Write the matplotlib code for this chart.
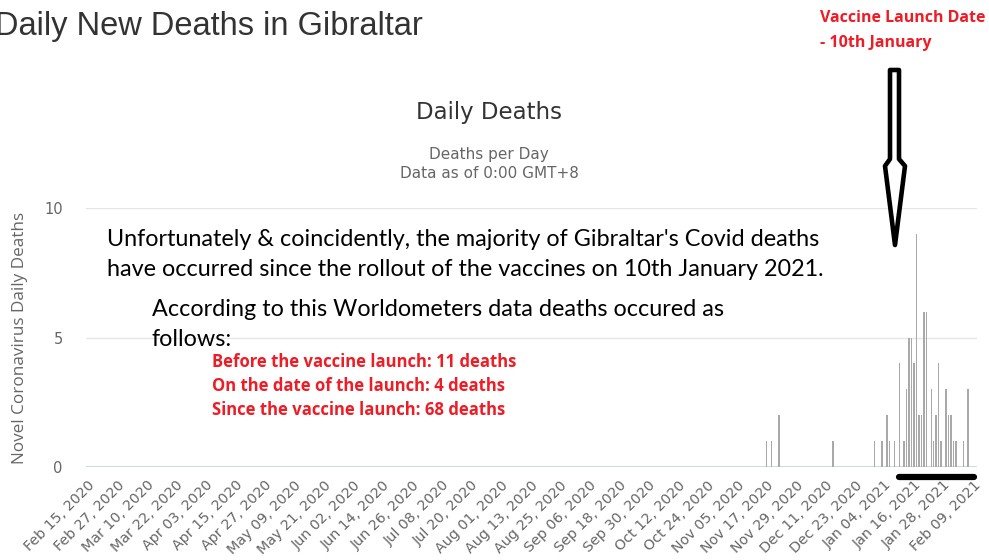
import numpy as np
import datetime
import matplotlib
matplotlib.use("Agg")
import matplotlib.pyplot as plt
from matplotlib.patches import Polygon
import matplotlib.transforms as mtransforms

# ---------------- data ----------------
start_date = "2020-02-15"
n_days = 362
death_dates = ["2020-11-17", "2020-11-19", "2020-11-22", "2020-12-14", "2020-12-31",
               "2021-01-03", "2021-01-05", "2021-01-06", "2021-01-08",
               "2021-01-10", "2021-01-12", "2021-01-13", "2021-01-14", "2021-01-15",
               "2021-01-16", "2021-01-17", "2021-01-18", "2021-01-19", "2021-01-20",
               "2021-01-21", "2021-01-23", "2021-01-24", "2021-01-25", "2021-01-26",
               "2021-01-27", "2021-01-29", "2021-01-30", "2021-01-31", "2021-02-01",
               "2021-02-02", "2021-02-05", "2021-02-07"]
death_counts = [1, 1, 2, 1, 1,
                1, 2, 1, 1,
                4, 1, 3, 5, 5,
                4, 9, 2, 2, 6,
                6, 3, 1, 2, 4,
                1, 3, 2, 2, 1,
                1, 1, 3]
tick_labels = ["Feb 15, 2020", "Feb 27, 2020", "Mar 10, 2020", "Mar 22, 2020", "Apr 03, 2020",
               "Apr 15, 2020", "Apr 27, 2020", "May 09, 2020", "May 21, 2020", "Jun 02, 2020",
               "Jun 14, 2020", "Jun 26, 2020", "Jul 08, 2020", "Jul 20, 2020", "Aug 01, 2020",
               "Aug 13, 2020", "Aug 25, 2020", "Sep 06, 2020", "Sep 18, 2020", "Sep 30, 2020",
               "Oct 12, 2020", "Oct 24, 2020", "Nov 05, 2020", "Nov 17, 2020", "Nov 29, 2020",
               "Dec 11, 2020", "Dec 23, 2020", "Jan 04, 2021", "Jan 16, 2021", "Jan 28, 2021",
               "Feb 09, 2021"]
launch_date = "2021-01-10"
y_ticks = [0, 5, 10]

# ---------------- figure ----------------
W, H = 989, 560
fig = plt.figure(figsize=(W / 100, H / 100), dpi=100)
fig.patch.set_facecolor("white")


def fx(x):
    return x / W


def fy(y):
    return 1 - y / H


ax_left, ax_right, ax_top, ax_bottom = 86.3, 976.8, 208, 467
ax = fig.add_axes([fx(ax_left), fy(ax_bottom), fx(ax_right - ax_left), (ax_bottom - ax_top) / H])

start = np.datetime64(start_date)
idx = (np.array(death_dates, dtype="datetime64[D]") - start).astype(int)
tick_dates = np.array([np.datetime64(datetime.datetime.strptime(t, "%b %d, %Y").date())
                       for t in tick_labels], dtype="datetime64[D]")
tick_idx = (tick_dates - start).astype(int)
launch_idx = int((np.datetime64(launch_date) - start).astype(int))

ax.bar(idx, death_counts, width=0.6, color="#a9a9a9", edgecolor="none", zorder=3)

ax.set_xlim(-0.5, n_days - 0.5)
ax.set_ylim(0, 10)
ax.set_yticks(y_ticks)
ax.set_yticklabels([str(v) for v in y_ticks])
for v in y_ticks[1:]:
    ax.axhline(v, color="#e6e6e6", lw=1, zorder=1)
ax.axhline(0, color="#ccd6eb", lw=1.3, zorder=2)
for s in ax.spines.values():
    s.set_visible(False)

ax.set_xticks(tick_idx)
ax.set_xticklabels(tick_labels, rotation=45, ha="right", rotation_mode="anchor",
                   fontsize=10.3, color="#666666", family="DejaVu Sans")
ax.tick_params(axis="x", length=0, pad=8)
ax.tick_params(axis="y", length=0, pad=17, labelsize=10.5, labelcolor="#666666")
ax.set_ylabel("Novel Coronavirus Daily Deaths", fontsize=12.3, color="#666666",
              family="Open Sans")
ax.yaxis.set_label_coords((28 - ax_left) / (ax_right - ax_left), 0.5)

# thick black bar under axis for post-launch period
trans = mtransforms.blended_transform_factory(ax.transData, ax.transAxes)
ax.plot([launch_idx, n_days - 1.5], [-0.04, -0.04], transform=trans, color="black",
        lw=4.5, solid_capstyle="round", clip_on=False, zorder=5)

# ---------------- titles ----------------
fig.text(fx(-5), fy(26), "Daily New Deaths in Gibraltar", fontsize=23.5, color="#333333",
         family="Liberation Sans", ha="left", va="center")
fig.text(fx(489), fy(112), "Daily Deaths", fontsize=16.5, color="#333333", ha="center", va="center")
fig.text(fx(489), fy(154), "Deaths per Day", fontsize=11, color="#666666", ha="center", va="center")
fig.text(fx(489), fy(174), "Data as of 0:00 GMT+8", fontsize=11, color="#666666", ha="center", va="center")

# ---------------- annotations ----------------
red = "#ee1c25"
fig.text(fx(820), fy(18), "Vaccine Launch Date", fontsize=11.5, color=red, weight="bold",
         family="Open Sans", ha="left", va="center")
fig.text(fx(820), fy(43), "- 10th January", fontsize=11.5, color=red, weight="bold",
         family="Open Sans", ha="left", va="center")

ann_font = "Lato"
ann_size = 16.8
fig.text(fx(107), fy(239), "Unfortunately & coincidently, the majority of Gibraltar's Covid deaths",
         fontsize=ann_size, color="black", family=ann_font, ha="left", va="center")
fig.text(fx(107), fy(269), "have occurred since the rollout of the vaccines on 10th January 2021.",
         fontsize=ann_size, color="black", family=ann_font, ha="left", va="center")
fig.text(fx(152), fy(310), "According to this Worldometers data deaths occured as",
         fontsize=ann_size, color="black", family=ann_font, ha="left", va="center")
fig.text(fx(152), fy(340), "follows:", fontsize=ann_size, color="black", family=ann_font,
         ha="left", va="center")
for yy, t in [(362, "Before the vaccine launch: 11 deaths"),
              (386, "On the date of the launch: 4 deaths"),
              (410, "Since the vaccine launch: 68 deaths")]:
    fig.text(fx(212), fy(yy), t, fontsize=12, color=red, weight="bold", family="Open Sans",
             ha="left", va="center")

# hollow arrow
pts = [(890, 70), (899, 70), (899, 159), (905, 166), (895, 245), (885, 166), (890, 159)]
arrow = Polygon([(fx(x), fy(y)) for x, y in pts], closed=True, transform=fig.transFigure,
                facecolor="white", edgecolor="black", lw=3.3, joinstyle="round", zorder=10)
fig.add_artist(arrow)

fig.savefig("out.png", dpi=100)
